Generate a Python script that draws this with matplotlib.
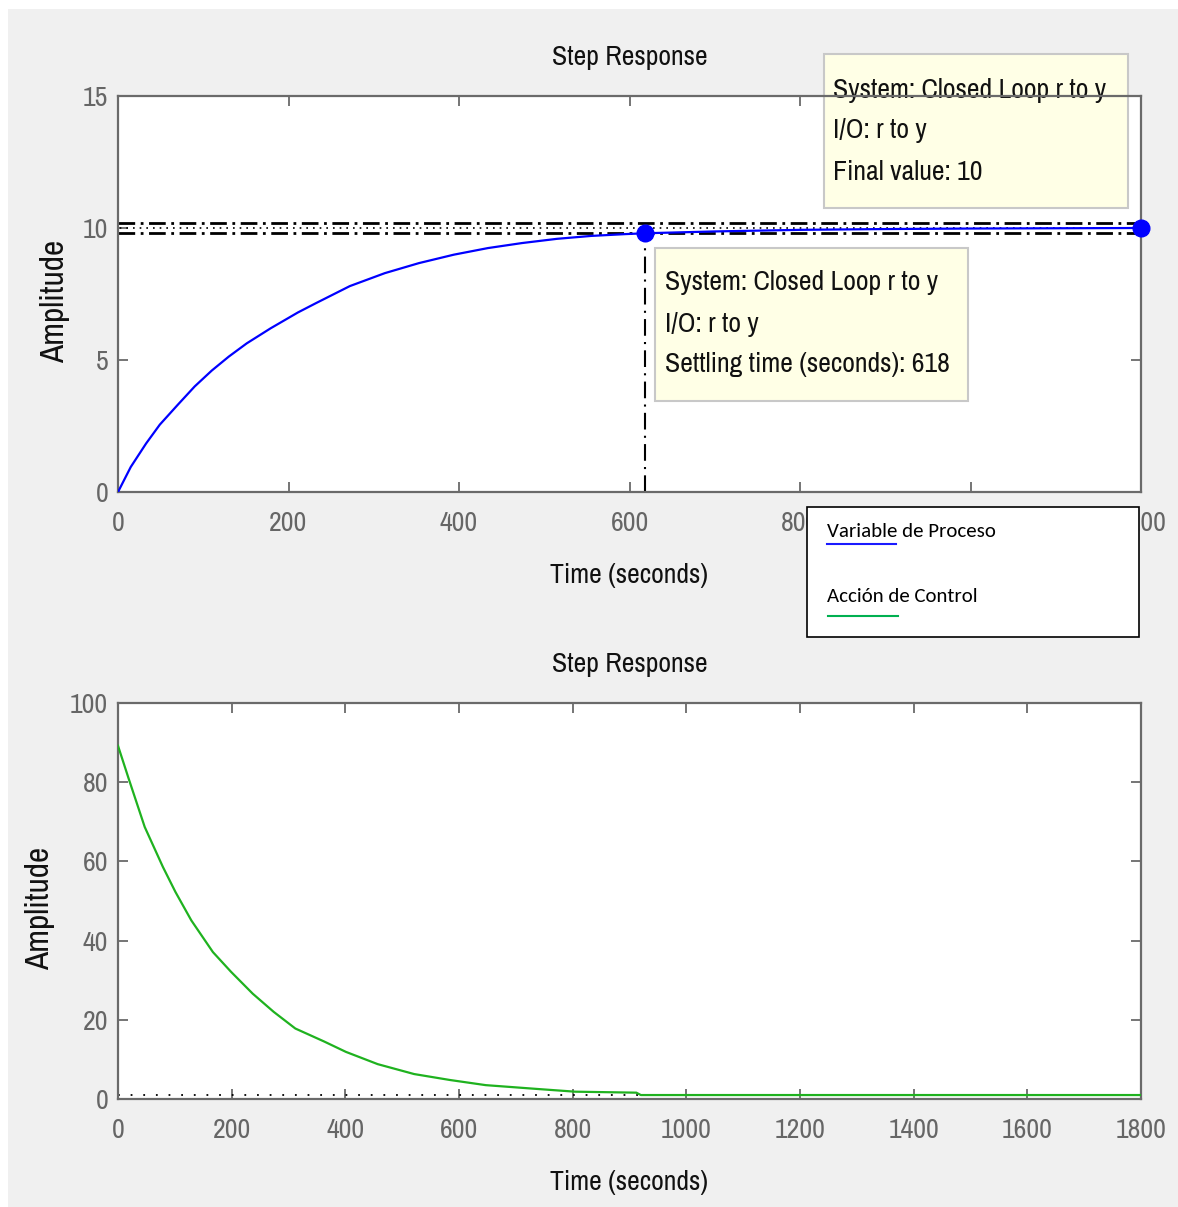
import matplotlib
matplotlib.use("Agg")
import matplotlib.pyplot as plt
from matplotlib.patches import Rectangle
from matplotlib.lines import Line2D

# respuesta de la variable de proceso
t_pv = [0, 15, 33, 49, 70, 90, 110, 130, 151, 179, 211, 232, 272, 313, 353,
        394, 434, 474, 515, 555, 596, 618, 700, 800, 900, 1000, 1100, 1200]
y_pv = [0, 0.95, 1.84, 2.55, 3.3, 4.0, 4.6, 5.13, 5.63, 6.2, 6.8, 7.15,
        7.8, 8.29, 8.67, 8.99, 9.24, 9.43, 9.59, 9.7, 9.77, 9.8, 9.87, 9.93,
        9.96, 9.98, 9.99, 10.0]

# accion de control
t_u = [0, 19, 47, 79, 101, 129, 167, 199, 237, 274, 312, 363, 401, 457, 521,
       584, 647, 741, 804, 912, 920, 1800]
y_u = [89.2, 80.8, 68.7, 58.6, 52.3, 45.1, 37.1, 32.1, 26.6, 22.0, 17.8, 14.5,
       11.9, 8.8, 6.3, 4.8, 3.5, 2.5, 1.85, 1.6, 1.0, 1.0]

final_value = 10
settle_band = [9.8, 10.2]
settling_time = 618
settling_y = 9.8
u_final = 1.0

top_xticks = [0, 200, 400, 600, 800, 1000, 1200]
top_yticks = [0, 5, 10, 15]
bot_xticks = [0, 200, 400, 600, 800, 1000, 1200, 1400, 1600, 1800]
bot_yticks = [0, 20, 40, 60, 80, 100]

tip1 = ["System: Closed Loop r to y", "I/O: r to y", "Settling time (seconds): 618"]
tip2 = ["System: Closed Loop r to y", "I/O: r to y", "Final value: 10"]

W, H = 1178, 1207
FONT = ["Liberation Sans Narrow", "Archivo Narrow", "Roboto Condensed",
        "PT Sans Narrow", "DejaVu Sans"]
LEG_FONT = ["Carlito", "Lato", "DejaVu Sans"]
GRAY = "#f0f0f0"

fig = plt.figure(figsize=(W / 100, H / 100), dpi=100, facecolor="white")
fig.patches.append(Rectangle((8 / W, 0), 1, 1 - 9 / H, transform=fig.transFigure,
                             facecolor=GRAY, edgecolor="none", zorder=-10))


def style_axes(ax, xticks, yticks, ylab_x):
    ax.set_facecolor("white")
    for s in ax.spines.values():
        s.set_color("#6a6a6a")
        s.set_linewidth(1.6)
    ax.set_xticks(xticks)
    ax.set_yticks(yticks)
    ax.tick_params(direction="in", length=7, width=1.3, color="#6a6a6a",
                   top=True, right=True, labelsize=20, labelcolor="#666666")
    ax.tick_params(axis="x", pad=14)
    ax.tick_params(axis="y", pad=7)
    for lab in ax.get_xticklabels() + ax.get_yticklabels():
        lab.set_family(FONT)
    ax.text(0.5, 1.098, "Step Response", transform=ax.transAxes, ha="center",
            va="center", fontsize=20, family=FONT, color="#111111")
    ax.text(0.5, -0.212, "Time (seconds)", transform=ax.transAxes, ha="center",
            va="center", fontsize=20, family=FONT, color="#111111")
    ax.text(ylab_x, 0.482, "Amplitude", transform=ax.transAxes, ha="center",
            va="center", rotation=90, fontsize=24, family=FONT, color="#111111")


# grafica superior
ax1 = fig.add_axes([118 / W, 1 - 492 / H, 1023 / W, 396 / H])
ax1.set_xlim(0, 1200)
ax1.set_ylim(0, 15)
style_axes(ax1, top_xticks, top_yticks, -0.0616)

for v in settle_band:
    ax1.axhline(v, color="black", lw=2, ls=(0, (6, 2, 1, 2)), zorder=2)
ax1.axhline(final_value, color="black", lw=1.2, ls=(3, (1, 3)), zorder=2)
ax1.plot([settling_time, settling_time], [0, settling_y], color="black", lw=1.5,
         ls=(0, (8, 3, 1, 3)), zorder=2)
ax1.plot(t_pv, y_pv, color="#0000ff", lw=1.6, zorder=3)
ax1.plot([settling_time], [settling_y], "o", color="#0000ff", ms=12, zorder=4,
         clip_on=False)
ax1.plot([t_pv[-1]], [y_pv[-1]], "o", color="#0000ff", ms=12, zorder=4,
         clip_on=False)


def datatip(ax, x0, x1, y0, y1, tx, tys, lines):
    ax.add_patch(Rectangle((x0, y0), x1 - x0, y1 - y0, transform=ax.transAxes,
                           facecolor="#ffffe6", edgecolor="#c8c8c8", lw=1.5,
                           clip_on=False, zorder=2.2))
    for ty, s in zip(tys, lines):
        ax.text(tx, ty, s, transform=ax.transAxes, ha="left", va="center",
                fontsize=20, family=FONT, color="#111111", zorder=2.3,
                clip_on=False)


datatip(ax1, 0.525, 0.831, 0.230, 0.616, 0.535, [0.528, 0.422, 0.321], tip1)
datatip(ax1, 0.690, 0.987, 0.717, 1.106, 0.699, [1.015, 0.912, 0.808], tip2)

# grafica inferior
ax2 = fig.add_axes([118 / W, 1 - 1099 / H, 1023 / W, 396 / H])
ax2.set_xlim(0, 1800)
ax2.set_ylim(0, 100)
style_axes(ax2, bot_xticks, bot_yticks, -0.0762)
ax2.axhline(u_final, color="black", lw=1.3, ls=(0, (1, 6)), zorder=2)
ax2.plot(t_u, y_u, color="#1fb21f", lw=1.6, zorder=3)

# cuadro de leyenda
fig.patches.append(Rectangle((807 / W, 1 - 637 / H), 332 / W, 130 / H,
                             transform=fig.transFigure, facecolor="white",
                             edgecolor="black", lw=1.2, zorder=20))
fig.text(827 / W, 1 - 531 / H, "Variable de Proceso", fontsize=15, family=LEG_FONT,
         va="center", ha="left", zorder=21)
fig.text(827 / W, 1 - 597 / H, "Acción de Control", fontsize=15, family=LEG_FONT,
         va="center", ha="left", zorder=21)
fig.lines.append(Line2D([827 / W, 896 / W], [1 - 544 / H, 1 - 544 / H],
                        transform=fig.transFigure, color="#1a1aff", lw=1.5, zorder=21))
fig.lines.append(Line2D([828 / W, 898 / W], [1 - 616 / H, 1 - 616 / H],
                        transform=fig.transFigure, color="#00b050", lw=1.5, zorder=21))

fig.savefig("out.png", dpi=100, facecolor=fig.get_facecolor())
